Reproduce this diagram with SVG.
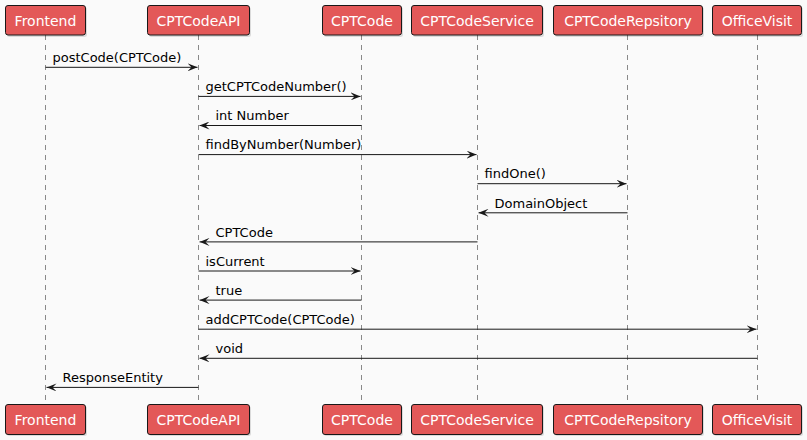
<svg xmlns="http://www.w3.org/2000/svg" width="807" height="440" viewBox="0 0 807 440">
<style>
.box{fill:#E35858;stroke:#181818;stroke-width:1}
.shadow{fill:#000;opacity:0.12}
.pt{font-family:"DejaVu Sans",sans-serif;font-size:14px;fill:#FFFFFF;text-anchor:middle}
.life{stroke:#181818;stroke-width:0.5;stroke-dasharray:5,5;fill:none}
.msg{stroke:#181818;stroke-width:1}
.ml{font-family:"DejaVu Sans",sans-serif;font-size:13px;fill:#000000}
</style>
<defs>
<marker id="ah" viewBox="0 0 10 8" refX="10" refY="4" markerWidth="10" markerHeight="8" markerUnits="userSpaceOnUse" orient="auto">
<polygon points="0,0 10,4 0,8 4,4" fill="#181818"/>
</marker>
</defs>
<rect width="807" height="440" fill="#FAFAFA"/>
<g id="lifelines">
<line class="life" x1="45.5" y1="35" x2="45.5" y2="404"/>
<line class="life" x1="198.5" y1="35" x2="198.5" y2="404"/>
<line class="life" x1="361.5" y1="35" x2="361.5" y2="404"/>
<line class="life" x1="477.5" y1="35" x2="477.5" y2="404"/>
<line class="life" x1="627.5" y1="35" x2="627.5" y2="404"/>
<line class="life" x1="757.5" y1="35" x2="757.5" y2="404"/>
</g>
<g id="Frontend">
<rect class="shadow" x="7" y="7" width="80" height="30" rx="2.5"/>
<rect class="box" x="5.5" y="5.5" width="80" height="29.5" rx="2.5"/>
<text class="pt" x="45.5" y="25.5">Frontend</text>
<rect class="shadow" x="7" y="406" width="80" height="30" rx="2.5"/>
<rect class="box" x="5.5" y="404.5" width="80" height="30" rx="2.5"/>
<text class="pt" x="45.5" y="425">Frontend</text>
</g>
<g id="CPTCodeAPI">
<rect class="shadow" x="149" y="7" width="102" height="30" rx="2.5"/>
<rect class="box" x="147.5" y="5.5" width="102" height="29.5" rx="2.5"/>
<text class="pt" x="198.5" y="25.5">CPTCodeAPI</text>
<rect class="shadow" x="149" y="406" width="102" height="30" rx="2.5"/>
<rect class="box" x="147.5" y="404.5" width="102" height="30" rx="2.5"/>
<text class="pt" x="198.5" y="425">CPTCodeAPI</text>
</g>
<g id="CPTCode">
<rect class="shadow" x="324" y="7" width="79" height="30" rx="2.5"/>
<rect class="box" x="322.5" y="5.5" width="79" height="29.5" rx="2.5"/>
<text class="pt" x="362" y="25.5">CPTCode</text>
<rect class="shadow" x="324" y="406" width="79" height="30" rx="2.5"/>
<rect class="box" x="322.5" y="404.5" width="79" height="30" rx="2.5"/>
<text class="pt" x="362" y="425">CPTCode</text>
</g>
<g id="CPTCodeService">
<rect class="shadow" x="413" y="7" width="131" height="30" rx="2.5"/>
<rect class="box" x="411.5" y="5.5" width="131" height="29.5" rx="2.5"/>
<text class="pt" x="477" y="25.5">CPTCodeService</text>
<rect class="shadow" x="413" y="406" width="131" height="30" rx="2.5"/>
<rect class="box" x="411.5" y="404.5" width="131" height="30" rx="2.5"/>
<text class="pt" x="477" y="425">CPTCodeService</text>
</g>
<g id="CPTCodeRepsitory">
<rect class="shadow" x="555" y="7" width="149" height="30" rx="2.5"/>
<rect class="box" x="553.5" y="5.5" width="149" height="29.5" rx="2.5"/>
<text class="pt" x="628" y="25.5">CPTCodeRepsitory</text>
<rect class="shadow" x="555" y="406" width="149" height="30" rx="2.5"/>
<rect class="box" x="553.5" y="404.5" width="149" height="30" rx="2.5"/>
<text class="pt" x="628" y="425">CPTCodeRepsitory</text>
</g>
<g id="OfficeVisit">
<rect class="shadow" x="714" y="7" width="89" height="30" rx="2.5"/>
<rect class="box" x="712.5" y="5.5" width="89" height="29.5" rx="2.5"/>
<text class="pt" x="757" y="25.5">OfficeVisit</text>
<rect class="shadow" x="714" y="406" width="89" height="30" rx="2.5"/>
<rect class="box" x="712.5" y="404.5" width="89" height="30" rx="2.5"/>
<text class="pt" x="757" y="425">OfficeVisit</text>
</g>
<g id="connectors">
<line class="msg" x1="45.5" y1="67.3" x2="197.5" y2="67.3" marker-end="url(#ah)"/>
<text class="ml" x="52.5" y="62">postCode(CPTCode)</text>
<line class="msg" x1="198.5" y1="96.4" x2="360.5" y2="96.4" marker-end="url(#ah)"/>
<text class="ml" x="205.5" y="91.1">getCPTCodeNumber()</text>
<line class="msg" x1="361.5" y1="125.5" x2="199.5" y2="125.5" marker-end="url(#ah)"/>
<text class="ml" x="215.5" y="120.2">int Number</text>
<line class="msg" x1="198.5" y1="154.6" x2="476.5" y2="154.6" marker-end="url(#ah)"/>
<text class="ml" x="205.5" y="149.3">findByNumber(Number)</text>
<line class="msg" x1="477.5" y1="183.7" x2="626.5" y2="183.7" marker-end="url(#ah)"/>
<text class="ml" x="484.5" y="178.4">findOne()</text>
<line class="msg" x1="627.5" y1="212.8" x2="478.5" y2="212.8" marker-end="url(#ah)"/>
<text class="ml" x="494.5" y="207.5">DomainObject</text>
<line class="msg" x1="477.5" y1="241.9" x2="199.5" y2="241.9" marker-end="url(#ah)"/>
<text class="ml" x="215.5" y="236.6">CPTCode</text>
<line class="msg" x1="198.5" y1="271" x2="360.5" y2="271" marker-end="url(#ah)"/>
<text class="ml" x="205.5" y="265.7">isCurrent</text>
<line class="msg" x1="361.5" y1="300.1" x2="199.5" y2="300.1" marker-end="url(#ah)"/>
<text class="ml" x="215.5" y="294.8">true</text>
<line class="msg" x1="198.5" y1="329.2" x2="756.5" y2="329.2" marker-end="url(#ah)"/>
<text class="ml" x="205.5" y="323.9">addCPTCode(CPTCode)</text>
<line class="msg" x1="757.5" y1="358.3" x2="199.5" y2="358.3" marker-end="url(#ah)"/>
<text class="ml" x="215.5" y="353">void</text>
<line class="msg" x1="198.5" y1="387.4" x2="46.5" y2="387.4" marker-end="url(#ah)"/>
<text class="ml" x="62.5" y="382.1">ResponseEntity</text>
</g>
</svg>
